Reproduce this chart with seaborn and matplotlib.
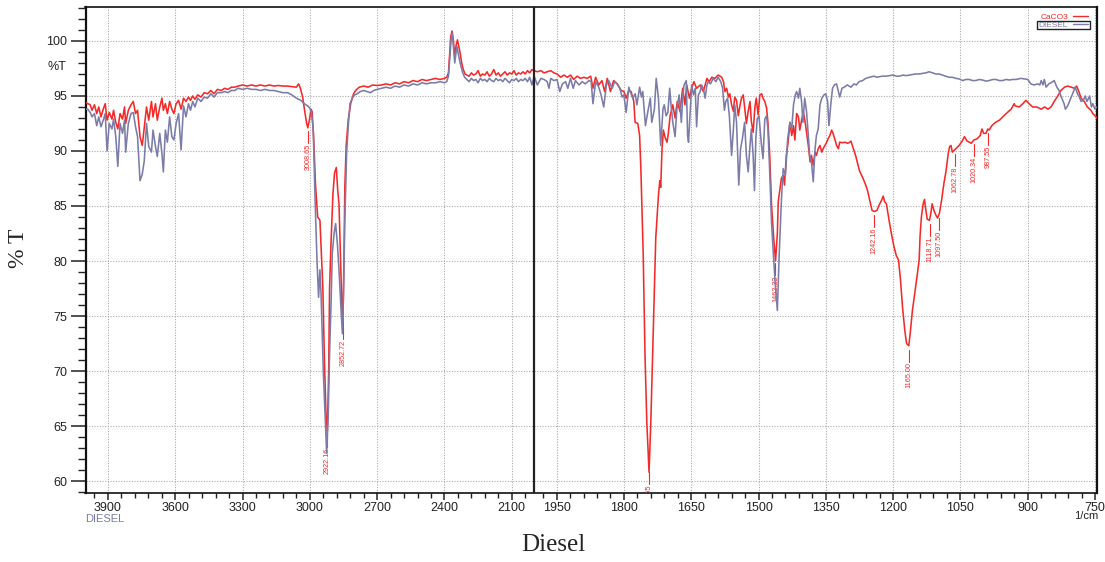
import numpy as np
import pandas as pd
import matplotlib
matplotlib.use("Agg")
import matplotlib.pyplot as plt
import seaborn as sns
from matplotlib.lines import Line2D
from matplotlib.patches import Rectangle

# ---------------- data (wavenumber 1/cm, %T) ----------------
caco3_a = [(4000,94.4),(3990,94.3),(3979,94.2),(3971,93.7),(3960,94.2),(3950,93.4),(3941,94.0),(3931,93.1),
           (3921,93.8),(3912,94.3),(3904,92.8),(3894,93.5),(3882,92.9),(3875,93.7),(3865,92.6),(3856,92.0),
           (3846,93.4),(3835,92.9),(3826,94.0),(3821,92.5),(3809,93.7),(3797,94.2),(3787,94.5),(3777,93.4),
           (3768,93.7),(3757,91.3),(3747,90.5),(3738,92.2),(3728,94.0),(3718,92.8),(3706,94.5),(3699,93.1),
           (3688,94.3),(3680,92.8),(3669,94.0),(3659,94.8),(3653,93.7),(3644,94.3),(3635,93.4),(3625,94.5),
           (3615,93.8),(3606,93.4),(3596,94.3),(3585,94.6),(3574,93.8),(3563,94.8),(3552,94.5),(3541,94.9),
           (3532,94.6),(3522,95.0),(3512,94.7),(3500,95.1),(3485,94.9),(3471,95.3),(3456,95.2),(3441,95.5),
           (3427,95.2),(3412,95.6)]
caco3_b = [(3395,95.5),(3380,95.7),(3365,95.6),(3350,95.8),(3335,95.8),(3320,95.9),(3300,96.0),(3280,95.9),
           (3260,96.0),(3240,95.9),(3220,96.0),(3200,95.9),(3180,96.0),(3160,95.9),(3140,95.95),(3120,95.9),
           (3100,95.9),(3080,95.85),(3060,95.8),(3050,96.1),(3042,95.7),(3032,94.9),(3022,93.5),(3015,92.6),
           (3009,92.1),(3002,92.8),(2995,93.8),(2990,93.6),(2983,91.2),(2975,87.0),(2965,84.0),(2955,83.7),
           (2948,80.5),(2942,77.6),(2935,71.0),(2928,66.0),(2922,64.5),(2916,70.0),(2912,77.6),(2905,82.0),
           (2897,86.1),(2890,88.0),(2882,88.5),(2876,86.5),(2870,85.2),(2862,79.2),(2856,75.0),(2853,74.0),
           (2848,80.0),(2844,86.7),(2838,90.5),(2829,92.8),(2818,94.3),(2805,95.2),(2796,95.5),(2780,95.8),
           (2759,95.9),(2740,95.8),(2720,96.0),(2700,95.95)]
caco3_c = [(2680,96.0),(2660,96.1),(2640,96.0),(2620,96.2),(2600,96.1),(2580,96.3),(2560,96.2),(2540,96.4),
           (2520,96.3),(2500,96.5),(2480,96.4),(2460,96.5),(2440,96.6),(2420,96.5),(2400,96.6),(2390,96.7),
           (2382,97.1),(2376,99.0),(2372,100.4),(2366,100.9),(2360,100.0),(2354,98.6),(2348,99.6),(2342,100.1),
           (2336,99.5),(2330,98.9),(2323,98.0),(2316,97.4),(2308,97.0),(2300,96.9),(2290,96.8),(2280,97.1),
           (2270,96.9),(2260,97.0),(2250,97.3),(2240,96.8),(2230,97.0),(2220,96.9),(2210,97.2),(2200,96.8),
           (2190,97.0),(2180,97.4),(2170,96.9),(2160,97.1),(2150,96.8),(2140,97.0),(2130,97.2),(2120,96.9),
           (2110,97.1),(2100,97.0),(2090,97.3),(2080,96.9),(2070,97.1),(2060,97.0),(2050,97.2),(2040,97.0),
           (2030,97.3),(2020,97.1),(2010,97.4),(2000,97.3)]
caco3_d = [(1993,97.2),(1985,97.3),(1978,97.1),(1971,97.2),(1963,97.3),(1956,97.1),(1949,97.0),(1941,96.7),
           (1934,96.9),(1926,96.7),(1919,96.9),(1912,96.5),(1904,96.8),(1897,96.6),(1889,96.7),(1882,96.6),
           (1874,96.8),(1869,95.7),(1863,96.7),(1856,96.0),(1849,96.4),(1843,95.4),(1837,96.6),(1830,95.4),
           (1823,96.4),(1815,96.1),(1806,95.5),(1800,95.4),(1795,94.8),(1789,95.5),(1784,95.4),(1778,94.5),
           (1775,92.6),(1769,92.5),(1765,91.4),(1762,88.1),(1757,80.6),(1753,71.5),(1749,65.4),(1744,60.8),
           (1740,65.4),(1734,74.5),(1729,82.1),(1723,86.0),(1720,87.3),(1718,86.7),(1715,90.2),(1712,91.9),
           (1708,91.2),(1704,90.8),(1701,91.6),(1697,93.2),(1691,94.2),(1686,93.0),(1681,94.5),(1675,93.6),
           (1669,95.7),(1664,94.2),(1660,96.0),(1654,94.8),(1649,95.7),(1644,96.3),(1638,95.7),(1630,96.0),
           (1623,95.4),(1615,96.6),(1610,96.3),(1604,96.7),(1597,96.6),(1590,96.9),(1582,96.7),(1578,96.3)]
caco3_e = [(1575,95.4),(1571,95.7),(1567,94.9),(1564,95.2),(1560,94.2),(1556,93.6),(1553,94.9),(1549,94.6),
           (1545,93.2),(1541,94.2),(1538,94.8),(1534,95.1),(1530,93.6),(1527,92.5),(1523,93.6),(1519,94.5),
           (1516,92.7),(1512,91.7),(1508,94.0),(1505,94.8),(1501,93.3),(1497,95.1),(1493,95.2),(1490,94.8),
           (1486,94.5),(1482,93.9),(1479,92.6),(1475,89.6),(1471,85.1),(1466,82.0),(1462,80.0),(1458,82.5),
           (1456,85.4),(1453,86.3),(1449,87.5),(1445,87.8),(1442,86.9),(1438,89.6),(1434,90.8),(1430,92.6),
           (1426,91.4),(1422,92.3),(1419,91.0),(1415,93.4),(1411,93.1),(1408,91.9),(1404,92.8),(1400,93.5),
           (1396,92.6),(1393,91.7),(1389,90.5),(1385,89.0),(1382,89.6),(1378,88.7),(1374,89.9),(1371,89.6),
           (1367,90.2),(1363,90.5),(1359,89.9),(1356,90.2),(1352,90.5),(1348,90.8),(1345,91.1),(1341,91.4),
           (1337,91.9),(1334,91.6),(1330,91.1),(1326,90.5),(1322,90.2),(1319,90.8),(1313,90.75),(1307,90.8),
           (1302,90.7),(1298,90.75),(1294,90.9)]
caco3_f = [(1290,90.4),(1283,89.5),(1275,88.2),(1268,87.6),(1261,86.9),(1257,86.4),(1252,85.5),(1247,84.6),
           (1242,84.5),(1236,84.6),(1231,85.1),(1226,85.5),(1222,85.9),(1219,85.4),(1215,85.2),(1209,83.7),
           (1203,82.3),(1198,81.3),(1193,80.5),(1188,80.1),(1184,78.5),(1179,75.8),(1174,73.7),(1170,72.5),
           (1165,72.3),(1162,73.4),(1157,75.5),(1152,77.0),(1146,78.8),(1142,80.1),(1140,82.2),(1137,84.0),
           (1133,85.2),(1130,85.6),(1128,84.9),(1124,83.8),(1119,83.7),(1116,84.3),(1113,85.2),(1109,84.6),
           (1105,84.2),(1101,83.9),(1097,84.3),(1092,85.5),(1087,87.0),(1082,88.2),(1077,89.8),(1074,90.4),
           (1071,90.5),(1068,89.9),(1063,90.1),(1058,90.3),(1053,90.5),(1046,90.9),(1041,91.3),(1035,90.9),
           (1030,90.8),(1026,90.7),(1020,91.0),(1013,91.1),(1006,91.4),(1002,92.0),(998,91.6),(993,91.6),
           (989,92.0),(986,91.9),(980,92.3),(972,92.6),(963,92.8),(948,93.4),(937,93.8),(930,94.3),
           (928,94.1),(919,94.0),(911,94.3),(904,94.6),(897,94.3),(889,94.0),(880,94.0),(870,93.8),
           (862,94.0),(855,93.8),(848,94.0),(841,94.5),(833,95.0),(826,95.5),(818,95.8),(811,95.9),
           (803,95.8),(796,95.7),(791,95.9),(786,95.4),(781,94.8),(774,94.5),(767,94.0),(759,93.7),
           (755,93.4),(750,93.2),(746,93.0)]

diesel_a = [(4000,93.8),(3990,93.8),(3979,93.5),(3971,93.1),(3960,93.4),(3950,92.3),(3941,93.1),(3931,92.2),
            (3921,92.8),(3912,93.4),(3904,90.0),(3894,92.5),(3882,92.0),(3875,92.9),(3865,91.3),(3856,88.6),
            (3846,92.5),(3835,91.6),(3826,92.8),(3821,89.9),(3809,92.5),(3797,93.4),(3787,93.5),(3777,92.2),
            (3768,91.3),(3757,87.3),(3747,87.9),(3738,89.1),(3728,92.5),(3718,90.4),(3706,89.9),(3699,91.9),
            (3688,90.4),(3680,89.5),(3669,91.6),(3659,89.7),(3653,88.1),(3644,91.9),(3635,90.8),(3625,93.1),
            (3615,91.3),(3606,91.0),(3596,92.5),(3585,93.4),(3574,90.1),(3563,94.1),(3552,93.1),(3541,94.3),
            (3532,93.7),(3522,94.5),(3512,94.0),(3500,94.8),(3485,94.5),(3471,94.9),(3456,94.8),(3441,95.2),
            (3427,94.9),(3412,95.3)]
diesel_b = [(3395,95.3),(3380,95.4),(3365,95.3),(3350,95.5),(3335,95.5),(3320,95.7),(3300,95.6),(3280,95.7),
            (3260,95.6),(3240,95.6),(3220,95.5),(3200,95.6),(3180,95.5),(3160,95.5),(3140,95.4),(3120,95.3),
            (3100,95.3),(3080,95.1),(3060,94.8),(3040,94.6),(3025,94.3),(3010,94.1),(3000,93.9),(2993,93.5),
            (2985,92.0),(2976,85.2),(2968,80.0),(2961,76.7),(2955,79.2),(2950,77.0),(2940,70.0),(2932,66.0),
            (2925,62.5),(2918,66.0),(2912,71.6),(2905,76.5),(2900,80.7),(2892,82.5),(2885,83.4),(2877,81.5),
            (2870,79.2),(2862,76.0),(2855,73.4),(2850,77.0),(2844,83.7),(2836,89.8),(2828,92.5),(2821,94.3),
            (2811,94.8),(2800,95.1),(2789,95.2),(2775,95.4),(2760,95.5),(2745,95.4),(2730,95.3),(2715,95.5),
            (2700,95.6)]
diesel_c = [(2680,95.7),(2660,95.8),(2640,95.7),(2620,95.9),(2600,95.8),(2580,96.0),(2560,95.9),(2540,96.1),
            (2520,96.0),(2500,96.2),(2480,96.1),(2460,96.2),(2440,96.2),(2420,96.3),(2400,96.2),(2390,96.3),
            (2382,96.8),(2376,98.5),(2370,100.2),(2365,100.7),(2360,99.5),(2354,98.0),(2348,99.0),(2344,99.5),
            (2338,98.8),(2330,98.0),(2320,97.2),(2310,96.7),(2300,96.5),(2290,96.3),(2280,96.6),(2270,96.4),
            (2260,96.5),(2250,96.2),(2240,96.6),(2230,96.4),(2220,96.5),(2210,96.3),(2200,96.6),(2190,96.4),
            (2180,96.3),(2170,96.6),(2160,96.4),(2150,96.5),(2140,96.3),(2130,96.6),(2120,96.4),(2110,96.2),
            (2100,96.5),(2090,96.4),(2080,96.6),(2070,96.3),(2060,96.5),(2050,96.4),(2040,96.6),(2030,96.3),
            (2020,96.7),(2010,96.0),(2000,96.8)]
diesel_d = [(1993,96.0),(1985,96.6),(1978,96.5),(1971,96.3),(1967,95.7),(1963,96.6),(1956,96.4),(1949,96.5),
            (1943,95.4),(1937,96.1),(1930,96.3),(1925,95.7),(1919,96.6),(1913,95.7),(1908,96.4),(1900,96.0),
            (1893,96.3),(1886,96.1),(1878,96.4),(1873,96.3),(1869,94.3),(1863,96.3),(1856,95.8),(1851,95.1),
            (1845,94.0),(1839,96.0),(1834,96.4),(1826,95.7),(1821,96.3),(1815,96.1),(1809,95.7),(1804,94.9),
            (1800,95.1),(1795,93.5),(1789,95.8),(1786,95.4),(1780,94.8),(1775,95.2),(1771,94.2),(1765,95.8),
            (1761,94.9),(1758,95.4),(1752,92.3),(1747,93.5),(1741,94.8),(1738,92.6),(1732,93.8),(1728,96.6),
            (1723,94.8),(1718,90.5),(1713,93.8),(1710,94.2),(1706,93.2),(1702,93.5),(1698,95.7),(1695,94.2),
            (1691,92.6),(1686,91.3),(1682,93.8),(1677,95.1),(1672,92.6),(1669,94.8),(1666,96.0),(1661,96.4),
            (1658,91.4),(1656,90.8),(1652,93.8),(1649,96.0),(1645,95.1),(1641,95.7),(1638,92.2),(1634,95.1),
            (1630,95.4),(1627,96.0),(1623,95.7),(1619,94.8),(1615,96.0),(1612,96.3),(1607,96.1),(1601,96.6),
            (1595,96.3),(1590,96.7),(1584,96.3),(1580,95.7)]
diesel_e = [(1576,93.7),(1573,94.5),(1569,94.8),(1565,93.2),(1560,89.6),(1556,92.0),(1553,94.2),(1549,92.6),
            (1544,86.9),(1540,90.2),(1536,91.1),(1531,92.6),(1527,89.6),(1523,88.1),(1519,90.5),(1516,92.0),
            (1512,89.6),(1509,86.4),(1506,91.1),(1503,92.9),(1499,93.2),(1494,90.8),(1490,89.3),(1486,92.9),
            (1482,93.2),(1479,92.0),(1475,88.1),(1471,83.5),(1466,80.0),(1462,77.5),(1458,75.5),(1454,80.5),
            (1449,85.5),(1445,88.4),(1440,87.8),(1435,91.1),(1430,92.6),(1426,92.0),(1422,94.2),(1418,95.1),
            (1415,95.4),(1411,94.8),(1408,95.7),(1404,94.5),(1401,92.6),(1397,94.8),(1393,93.6),(1389,91.4),
            (1386,89.6),(1382,89.0),(1378,87.2),(1374,90.2),(1371,91.4),(1367,92.0),(1363,94.2),(1359,94.8),
            (1354,95.1),(1350,95.2),(1346,94.5),(1343,92.3),(1339,94.2),(1335,95.7),(1331,96.0),(1326,96.1),
            (1322,95.4),(1319,94.9),(1314,95.7),(1309,95.8),(1302,96.0),(1294,95.8),(1287,96.1),(1282,96.0)]
diesel_f = [(1276,96.3),(1268,96.4),(1261,96.6),(1253,96.7),(1242,96.8),(1236,96.7),(1231,96.75),(1224,96.8),
            (1216,96.8),(1208,96.85),(1200,96.9),(1193,96.8),(1186,96.8),(1178,96.9),(1171,96.85),(1164,96.9),
            (1157,96.95),(1150,97.0),(1142,97.0),(1135,97.05),(1127,97.1),(1120,97.2),(1112,97.1),(1105,97.0),
            (1098,97.0),(1090,96.9),(1083,96.8),(1075,96.7),(1068,96.7),(1060,96.6),(1053,96.55),(1045,96.4),
            (1038,96.5),(1030,96.5),(1023,96.4),(1016,96.4),(1008,96.5),(1001,96.45),(993,96.35),(986,96.4),
            (978,96.5),(971,96.5),(963,96.4),(956,96.4),(948,96.5),(941,96.45),(934,96.5),(926,96.5),
            (920,96.55),(915,96.6),(907,96.55),(900,96.5),(893,96.1),(886,96.0),(878,96.1),(873,96.0),
            (870,96.4),(866,96.0),(863,96.5),(859,95.8),(853,96.1),(848,96.2),(841,96.4),(835,95.8),
            (830,95.5),(826,95.0),(819,94.3),(816,93.8),(811,94.1),(807,94.5),(801,95.1),(794,95.8),
            (789,95.2),(785,94.9),(781,94.5),(776,94.6),(772,95.0),(768,94.5),(762,95.0),(758,94.0),
            (755,94.3),(750,93.8),(746,94.0)]

peak_wn = [3008.65, 2922.16, 2852.72, 1743.65, 1462.33, 1242.16, 1165.00, 1118.71, 1097.50, 1062.78, 1020.34, 987.55]

x_major_left = [3900, 3600, 3300, 3000, 2700, 2400, 2100]
x_major_right = [1950, 1800, 1650, 1500, 1350, 1200, 1050, 900, 750]
y_major = [60, 65, 70, 75, 80, 85, 90, 95, 100]

# ---------------- assemble ----------------
def frame(name, segs):
    arr = np.array([p for s in segs for p in s], dtype=float)
    return pd.DataFrame({"wn": arr[:, 0], "T": arr[:, 1], "sample": name})

df = pd.concat([frame("CaCO3", [caco3_a, caco3_b, caco3_c, caco3_d, caco3_e, caco3_f]),
                frame("DIESEL", [diesel_a, diesel_b, diesel_c, diesel_d, diesel_e, diesel_f])],
               ignore_index=True)

RED = "#f42a2a"
PURPLE = "#7b7ca8"

sns.set_style("white")
plt.rcParams["font.family"] = ["Liberation Sans", "DejaVu Sans"]

fig = plt.figure(figsize=(11.05, 5.62), dpi=100)
ax = fig.add_axes([85.5/1105, 1-492.7/562, (1096.5-85.5)/1105, (492.7-7.3)/562])

def fwd(x):
    x = np.asarray(x, dtype=float)
    return np.where(x >= 2000, x - 2000, 2.0 * (x - 2000))

def inv(v):
    v = np.asarray(v, dtype=float)
    return np.where(v >= 0, v + 2000, v / 2.0 + 2000)

ax.set_xscale("function", functions=(fwd, inv))

sns.lineplot(data=df[df["sample"] == "CaCO3"], x="wn", y="T", sort=False, estimator=None,
             color=RED, lw=1.15, ax=ax, legend=False, zorder=3)
sns.lineplot(data=df[df["sample"] == "DIESEL"], x="wn", y="T", sort=False, estimator=None,
             color=PURPLE, lw=1.15, ax=ax, legend=False, zorder=4)

ax.set_xlim(4000, 746.7)
ax.set_ylim(58.94, 103.06)

minor_left = [w for w in range(3960, 2000, -60) if w not in x_major_left]
minor_right = [w for w in range(1980, 746, -30) if w not in x_major_right]
ax.set_xticks(x_major_left + x_major_right)
ax.set_xticks(minor_left + minor_right, minor=True)
ax.set_yticks(y_major)
ax.set_yticks(np.arange(59, 104, 1), minor=True)
ax.set_xticklabels([str(v) for v in x_major_left + x_major_right])
ax.set_yticklabels([str(v) for v in y_major])

ax.tick_params(axis="x", which="major", direction="out", length=5, width=1.1, pad=1.5, labelsize=9)
ax.tick_params(axis="x", which="minor", direction="out", length=3.5, width=1.0)
ax.tick_params(axis="y", which="major", direction="out", length=11, width=1.1, pad=2, labelsize=9)
ax.tick_params(axis="y", which="minor", direction="out", length=6, width=1.0)
ax.tick_params(which="both", colors="#222222", labelcolor="#222222")
ax.xaxis.set_ticks_position("bottom")
ax.yaxis.set_ticks_position("left")

ax.grid(True, which="major", color="#aaaaaa", linestyle=(0, (1, 1.4)), linewidth=0.8)
for s in ax.spines.values():
    s.set_color("#111111")
    s.set_linewidth(1.2)
ax.spines["left"].set_linewidth(1.6)
ax.spines["right"].set_linewidth(1.6)

ax.axvline(2000, color="#222222", lw=1.6, zorder=5)

ax.set_xlabel("")
ax.set_ylabel("")

# peak labels
red = df[df["sample"] == "CaCO3"].sort_values("wn")
for w in peak_wn:
    t = np.interp(w, red["wn"].values, red["T"].values)
    top = t - 0.35
    ax.plot([w, w], [top, top - 1.1], color=RED, lw=0.8, zorder=3)
    ax.text(w, top - 1.15, f"{w:.2f}", rotation=90, ha="center", va="top",
            fontsize=5.2, color=RED, zorder=3, clip_on=True)

# texts
ax.text(-0.028, 97.6, "%T", transform=ax.get_yaxis_transform(), ha="center", va="center",
        fontsize=9, color="#222222")
ax.text(0.0, -0.054, "DIESEL", transform=ax.transAxes, ha="left", va="center",
        fontsize=8, color=PURPLE)
ax.text(1.002, -0.049, "1/cm", transform=ax.transAxes, ha="right", va="center",
        fontsize=8, color="#222222")
fig.text(553/1105, 1-545/562, "Diesel", ha="center", va="center", fontsize=18,
         family=["Liberation Serif", "DejaVu Serif"])
fig.text(18/1105, 1-248/562, "% T", ha="center", va="center", fontsize=17, rotation=90,
         family=["Liberation Serif", "DejaVu Serif"])

handles = [Line2D([0], [0], color=RED, lw=1.0), Line2D([0], [0], color=PURPLE, lw=1.0)]
leg = ax.legend(handles, ["CaCO3", "DIESEL"], loc="upper right", bbox_to_anchor=(0.997, 1.0),
                markerfirst=False, fontsize=6, frameon=False, labelcolor=[RED, PURPLE],
                handlelength=1.8, handletextpad=0.6, labelspacing=0.05, borderpad=0.15)

# box around the DIESEL legend entry
fig.canvas.draw()
renderer = fig.canvas.get_renderer()
tb = leg.get_texts()[1].get_window_extent(renderer)
hb = leg.legend_handles[1].get_window_extent(renderer)
x0, x1 = min(tb.x0, hb.x0) - 2, max(tb.x1, hb.x1) + 2
y0, y1 = tb.y0 - 0.5, tb.y1 + 0.5
inv_fig = fig.transFigure.inverted()
(fx0, fy0), (fx1, fy1) = inv_fig.transform([(x0, y0), (x1, y1)])
fig.patches.append(Rectangle((fx0, fy0), fx1 - fx0, fy1 - fy0, transform=fig.transFigure,
                             fill=False, edgecolor="#222222", lw=1.0, zorder=10))

fig.savefig("out.png", dpi=100)
